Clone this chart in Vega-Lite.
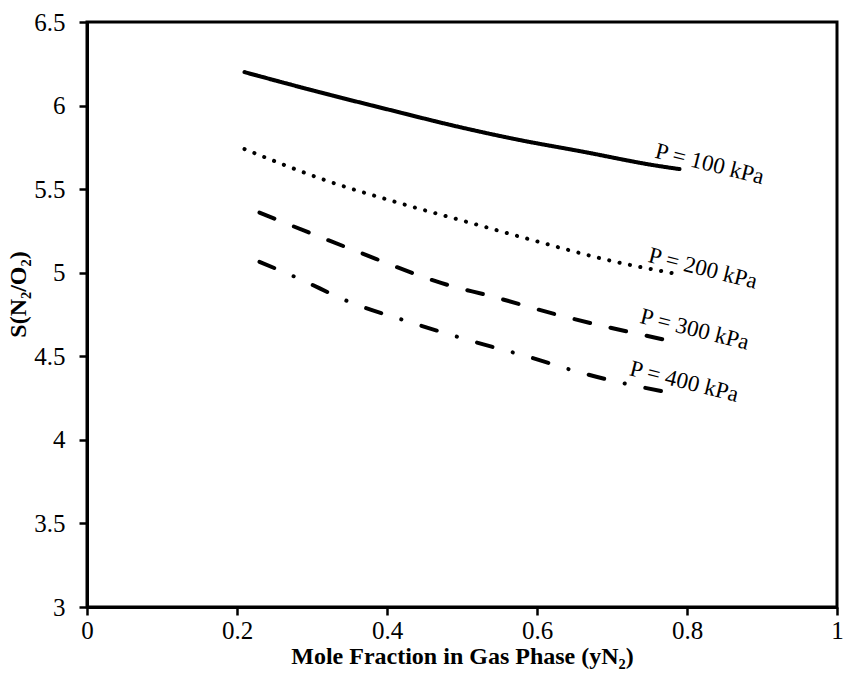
{
  "$schema": "https://vega.github.io/schema/vega-lite/v6.json",
  "autosize": {"type": "none"},
  "padding": {"left": 87, "top": 22, "right": 7, "bottom": 74},
  "width": 750,
  "height": 585,
  "background": "white",
  "config": {
    "view": {"stroke": "black", "strokeWidth": 3},
    "font": "Liberation Serif",
    "axis": {
      "grid": false,
      "domainColor": "black",
      "domainWidth": 3,
      "tickColor": "black",
      "tickWidth": 2.5,
      "tickSize": 8,
      "labelColor": "black",
      "titleFont": "Liberation Serif",
      "titleFontSize": 24,
      "titleFontWeight": "bold",
      "titleColor": "black",
      "labelFlush": false,
      "labelOverlap": false
    }
  },
  "datasets": {
    "curves": [
      {"P": "100 kPa", "y": 0.21, "S": 6.20},
      {"P": "100 kPa", "y": 0.31, "S": 6.08},
      {"P": "100 kPa", "y": 0.40, "S": 5.978},
      {"P": "100 kPa", "y": 0.50, "S": 5.868},
      {"P": "100 kPa", "y": 0.57, "S": 5.80},
      {"P": "100 kPa", "y": 0.66, "S": 5.725},
      {"P": "100 kPa", "y": 0.76, "S": 5.64},
      {"P": "100 kPa", "y": 0.79, "S": 5.62},
      {"P": "200 kPa", "y": 0.21, "S": 5.74},
      {"P": "200 kPa", "y": 0.32, "S": 5.55},
      {"P": "200 kPa", "y": 0.41, "S": 5.425},
      {"P": "200 kPa", "y": 0.51, "S": 5.30},
      {"P": "200 kPa", "y": 0.59, "S": 5.20},
      {"P": "200 kPa", "y": 0.70, "S": 5.07},
      {"P": "200 kPa", "y": 0.79, "S": 4.99},
      {"P": "300 kPa", "y": 0.23, "S": 5.36},
      {"P": "300 kPa", "y": 0.35, "S": 5.145},
      {"P": "300 kPa", "y": 0.49, "S": 4.915},
      {"P": "300 kPa", "y": 0.53, "S": 4.87},
      {"P": "300 kPa", "y": 0.63, "S": 4.745},
      {"P": "300 kPa", "y": 0.79, "S": 4.58},
      {"P": "400 kPa", "y": 0.23, "S": 5.065},
      {"P": "400 kPa", "y": 0.28, "S": 4.97},
      {"P": "400 kPa", "y": 0.35, "S": 4.825},
      {"P": "400 kPa", "y": 0.43, "S": 4.705},
      {"P": "400 kPa", "y": 0.51, "S": 4.595},
      {"P": "400 kPa", "y": 0.59, "S": 4.495},
      {"P": "400 kPa", "y": 0.66, "S": 4.40},
      {"P": "400 kPa", "y": 0.79, "S": 4.27}
    ],
    "labels": [
      {"text": "P = 100 kPa", "y": 0.756, "S": 5.69},
      {"text": "P = 200 kPa", "y": 0.747, "S": 5.065},
      {"text": "P = 300 kPa", "y": 0.736, "S": 4.70},
      {"text": "P = 400 kPa", "y": 0.722, "S": 4.388}
    ]
  },
  "layer": [
    {
      "data": {"name": "curves"},
      "mark": {"type": "line", "color": "black", "strokeWidth": 4, "strokeCap": "round", "interpolate": "monotone"},
      "encoding": {
        "x": {
          "field": "y", "type": "quantitative",
          "scale": {"domain": [0, 1], "nice": false, "zero": false},
          "axis": {"values": [0, 0.2, 0.4, 0.6, 0.8, 1], "format": ".1~f",
                   "labelFont": "Liberation Serif", "labelFontSize": 25,
                   "labelPadding": 3, "titlePadding": 1,
                   "title": "Mole Fraction in Gas Phase (yN₂)"}
        },
        "y": {
          "field": "S", "type": "quantitative",
          "scale": {"domain": [3, 6.5], "nice": false, "zero": false},
          "axis": {"values": [3, 3.5, 4, 4.5, 5, 5.5, 6, 6.5], "format": ".1~f",
                   "labelFont": "Liberation Serif", "labelFontSize": 25, "labelPadding": 14,
                   "title": "S(N₂/O₂)", "titleX": -69, "titleY": 272, "titleAlign": "center", "titleBaseline": "middle", "titleAngle": -90}
        },
        "detail": {"field": "P"},
        "strokeDash": {
          "field": "P", "type": "nominal",
          "scale": {"domain": ["100 kPa", "200 kPa", "300 kPa", "400 kPa"],
                    "range": [[1, 0], [0.1, 10.5], [16, 21], [16, 21, 0.1, 21]]},
          "legend": null
        }
      }
    },
    {
      "data": {"name": "labels"},
      "mark": {"type": "text", "font": "Liberation Serif", "fontSize": 23, "angle": 14, "align": "left", "baseline": "alphabetic", "color": "black"},
      "encoding": {
        "x": {"field": "y", "type": "quantitative"},
        "y": {"field": "S", "type": "quantitative"},
        "text": {"field": "text"}
      }
    }
  ]
}
